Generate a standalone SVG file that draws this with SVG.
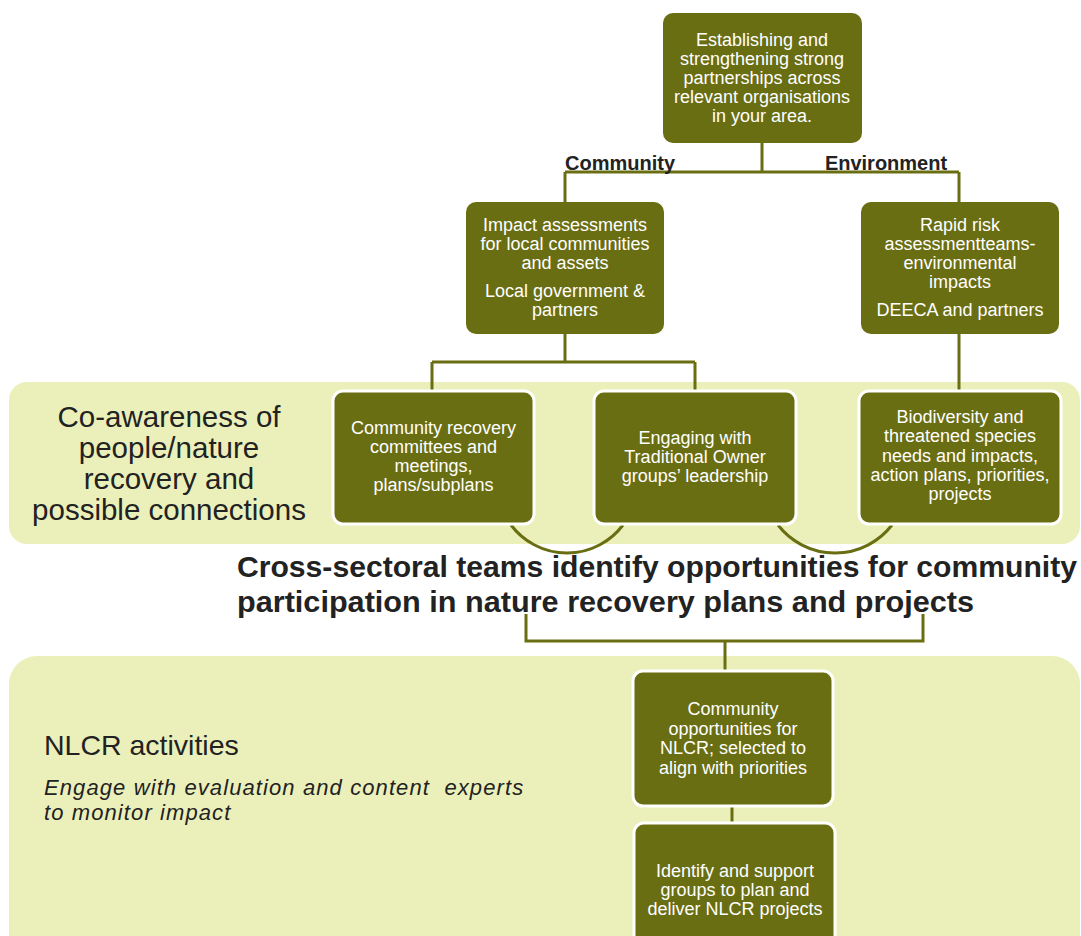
<svg xmlns="http://www.w3.org/2000/svg" width="1081" height="936" viewBox="0 0 1081 936">
<style>
.band{fill:#ebf0ba}
.box{fill:#6a6e13}
.boxw{fill:#6a6e13;stroke:#ffffff;stroke-width:3}
.bt{font-family:"Liberation Sans",Arial,sans-serif;font-size:18px;fill:#ffffff;text-anchor:middle}
.lbl{font-family:"Liberation Sans",Arial,sans-serif;font-size:20px;font-weight:bold;fill:#222222;text-anchor:middle}
.big{font-family:"Liberation Sans",Arial,sans-serif;font-size:29.5px;fill:#222222}
.head{font-family:"Liberation Sans",Arial,sans-serif;font-size:30px;font-weight:bold;fill:#222222}
.ital{font-family:"Liberation Sans",Arial,sans-serif;font-size:22px;font-style:italic;fill:#222222;letter-spacing:1.1px;white-space:pre}
.con{fill:none;stroke:#6a6e13;stroke-width:3}
</style>
<rect width="1081" height="936" fill="#ffffff"/>
<g id="band-coawareness">
<rect class="band" x="9" y="382" width="1071" height="162" rx="18"/>
<text class="big" text-anchor="middle" x="169" y="427">Co-awareness of</text>
<text class="big" text-anchor="middle" x="169" y="458">people/nature</text>
<text class="big" text-anchor="middle" x="169" y="489">recovery and</text>
<text class="big" text-anchor="middle" x="169" y="520">possible connections</text>
</g>
<g id="band-nlcr">
<rect class="band" x="9" y="656" width="1071" height="320" rx="28"/>
<text class="big" x="44" y="755" style="font-size:28.5px">NLCR activities</text>
<text class="ital" x="44" y="795" xml:space="preserve">Engage with evaluation and content  experts</text>
<text class="ital" x="44" y="820">to monitor impact</text>
</g>
<g id="connectors">
<path class="con" d="M762,143 V172 M565,172 H959 M565,172 V202 M959,172 V202"/>
<path class="con" d="M565,334 V362 M432,362 H695 M432,362 V391 M695,362 V391 M959,334 V391"/>
<path class="con" d="M511,525 A70,70 0 0 0 623,525"/>
<path class="con" d="M778,525 A72,72 0 0 0 892,525"/>
<path class="con" d="M526,614 V641 H923 V614 M725,641 V671"/>
<path class="con" d="M732,806 V823"/>
</g>
<g id="label-community"><text class="lbl" x="620" y="170">Community</text></g>
<g id="label-environment"><text class="lbl" x="886" y="170">Environment</text></g>
<g id="node-partnerships">
<rect class="box" x="663" y="13" width="199" height="130" rx="10"/>
<text class="bt" x="762" y="46">Establishing and</text>
<text class="bt" x="762" y="65">strengthening strong</text>
<text class="bt" x="762" y="84">partnerships across</text>
<text class="bt" x="762" y="103">relevant organisations</text>
<text class="bt" x="762" y="122">in your area.</text>
</g>
<g id="node-impact">
<rect class="box" x="466" y="202" width="198" height="132" rx="10"/>
<text class="bt" x="565" y="231">Impact assessments</text>
<text class="bt" x="565" y="250">for local communities</text>
<text class="bt" x="565" y="269">and assets</text>
<text class="bt" x="565" y="297">Local government &amp;</text>
<text class="bt" x="565" y="316">partners</text>
</g>
<g id="node-rapid">
<rect class="box" x="861" y="202" width="198" height="132" rx="10"/>
<text class="bt" x="960" y="231">Rapid risk</text>
<text class="bt" x="960" y="250">assessmentteams-</text>
<text class="bt" x="960" y="269">environmental</text>
<text class="bt" x="960" y="288">impacts</text>
<text class="bt" x="960" y="316">DEECA and partners</text>
</g>
<g id="node-committees">
<rect class="boxw" x="333" y="391" width="201" height="133" rx="10"/>
<text class="bt" x="433.5" y="434">Community recovery</text>
<text class="bt" x="433.5" y="453">committees and</text>
<text class="bt" x="433.5" y="472">meetings,</text>
<text class="bt" x="433.5" y="491">plans/subplans</text>
</g>
<g id="node-traditional-owner">
<rect class="boxw" x="594" y="391" width="202" height="133" rx="10"/>
<text class="bt" x="695" y="444">Engaging with</text>
<text class="bt" x="695" y="463">Traditional Owner</text>
<text class="bt" x="695" y="482">groups’ leadership</text>
</g>
<g id="node-biodiversity">
<rect class="boxw" x="859" y="391" width="202" height="133" rx="10"/>
<text class="bt" x="960" y="423">Biodiversity and</text>
<text class="bt" x="960" y="442">threatened species</text>
<text class="bt" x="960" y="461.5">needs and impacts,</text>
<text class="bt" x="960" y="481">action plans, priorities,</text>
<text class="bt" x="960" y="500">projects</text>
</g>
<g id="heading">
<text class="head" x="237" y="577" textLength="840" lengthAdjust="spacingAndGlyphs">Cross-sectoral teams identify opportunities for community</text>
<text class="head" x="237" y="612" textLength="737" lengthAdjust="spacingAndGlyphs">participation in nature recovery plans and projects</text>
</g>
<g id="node-opportunities">
<rect class="boxw" x="633" y="671" width="200" height="135" rx="10"/>
<text class="bt" x="733" y="715">Community</text>
<text class="bt" x="733" y="734.5">opportunities for</text>
<text class="bt" x="733" y="754">NLCR; selected to</text>
<text class="bt" x="733" y="773.5">align with priorities</text>
</g>
<g id="node-support-groups">
<rect class="boxw" x="634" y="823" width="201" height="140" rx="10"/>
<text class="bt" x="735" y="877">Identify and support</text>
<text class="bt" x="735" y="896">groups to plan and</text>
<text class="bt" x="735" y="915">deliver NLCR projects</text>
</g>
</svg>
